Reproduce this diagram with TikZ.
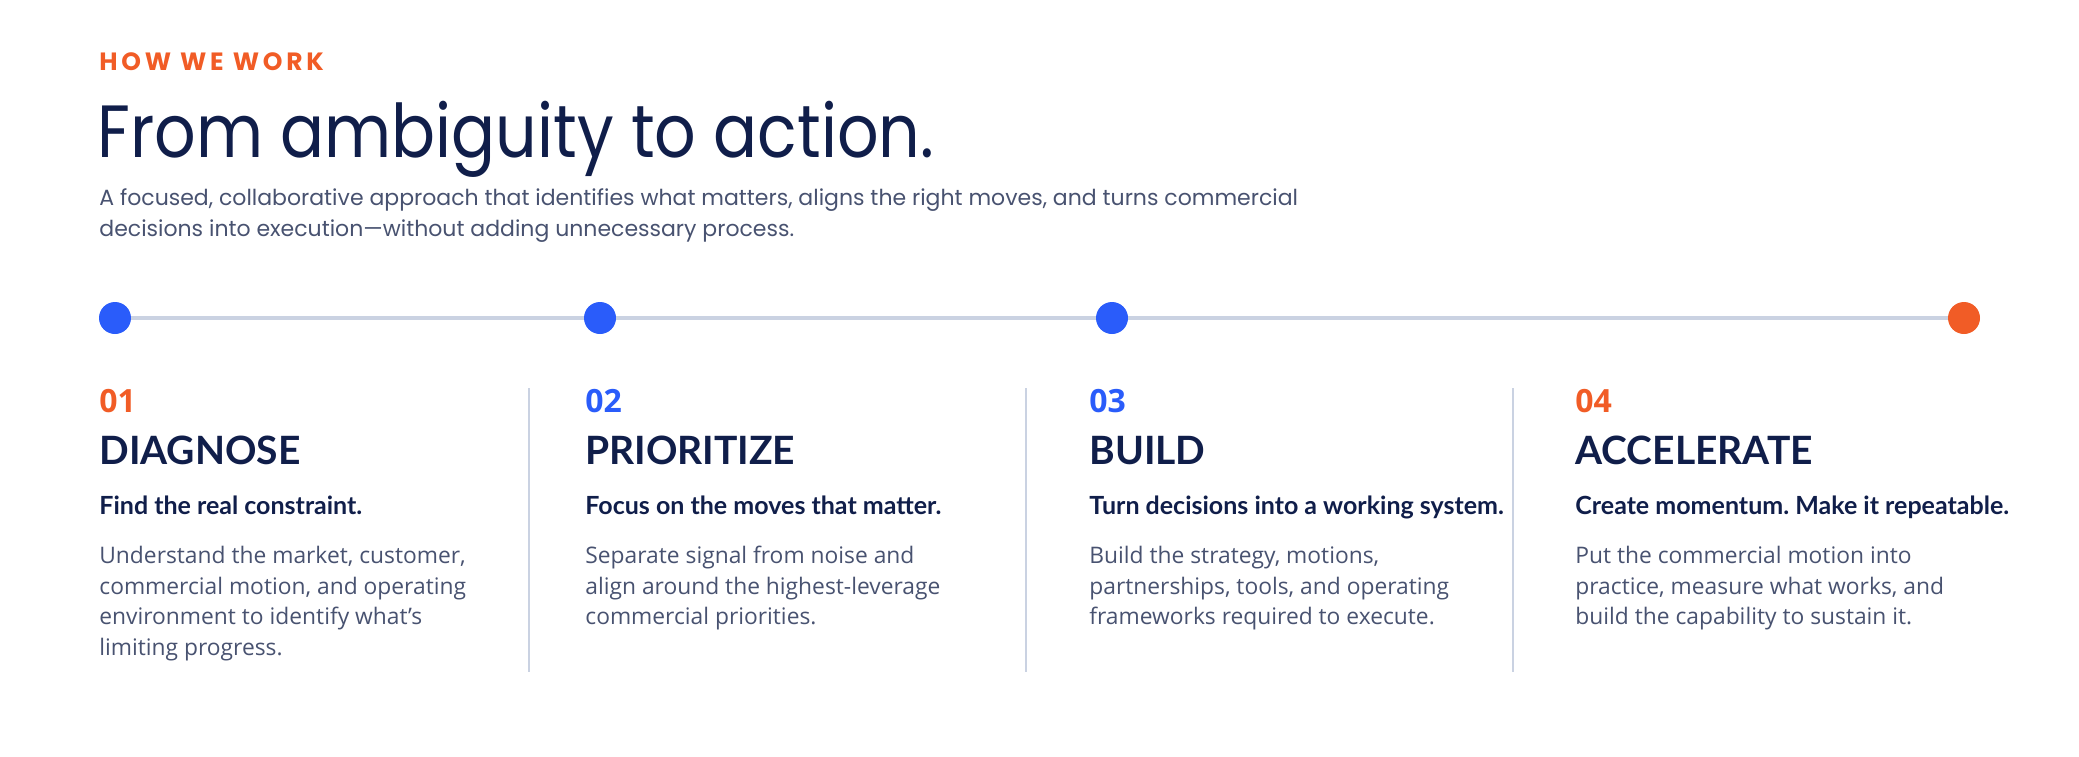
\documentclass[tikz,border=0pt]{standalone}
\usepackage{fontspec}
\setmainfont{Open Sans}
\newfontfamily\headfont{Poppins}
\newfontfamily\stepfont{Lato}
\usetikzlibrary{positioning}
\definecolor{navy}{RGB}{16, 30, 74}
\definecolor{accentorange}{RGB}{241, 92, 38}
\definecolor{stepblue}{RGB}{42, 92, 250}
\definecolor{bodygray}{RGB}{72, 82, 112}
\definecolor{railgray}{RGB}{202, 210, 226}
\frenchspacing

\tikzset{
  txt/.style={inner sep=0pt, anchor=base west},
  stepnum/.style={txt, font=\fontsize{16}{16}\selectfont\bfseries},
  steptitle/.style={txt, navy, font=\stepfont\fontsize{19.5}{19.5}\selectfont\bfseries},
  steplead/.style={txt, navy, font=\stepfont\fontsize{12.5}{12.5}\selectfont\bfseries},
  stepbody/.style={inner sep=0pt, anchor=north west, align=left, bodygray,
    font=\fontsize{11.4}{15.25}\selectfont},
  stepdot/.style={circle, fill=#1, minimum size=16pt, inner sep=0pt},
  rail/.style={railgray, line width=2pt},
  divider/.style={railgray, line width=0.8pt},
}

\begin{document}
\begin{tikzpicture}[x=0.5pt, y=-0.5pt]
    \useasboundingbox (0,0) rectangle (2079,756);

    % Header
    \node[txt, accentorange, font=\headfont\fontsize{12.5}{12.5}\selectfont\bfseries\addfontfeatures{LetterSpace=15}] (kicker) at (99,70) {HOW WE WORK};
    \node[txt, navy, font=\headfont\fontsize{37}{37}\selectfont\addfontfeatures{FakeStretch=0.88}] (title) at (97,157) {From ambiguity to action.};
    \node[txt, bodygray, font=\headfont\fontsize{11}{11}\selectfont] (sub1) at (99,205) {A focused, collaborative approach that identifies what matters, aligns the right moves, and turns commercial};
    \node[txt, bodygray, font=\headfont\fontsize{11}{11}\selectfont] (sub2) at (99,236) {decisions into execution—without adding unnecessary process.};

    % Timeline
    \node[stepdot=stepblue] (d1) at (115,318) {};
    \node[stepdot=stepblue] (d2) at (600,318) {};
    \node[stepdot=stepblue] (d3) at (1112,318) {};
    \node[stepdot=accentorange] (d4) at (1964,318) {};
    \draw[rail] (d1) -- (d2);
    \draw[rail] (d2) -- (d3);
    \draw[rail] (d3) -- (d4);

    % Dividers
    \coordinate (s1a) at (529,388); \coordinate (s1b) at (529,672);
    \coordinate (s2a) at (1026,388); \coordinate (s2b) at (1026,672);
    \coordinate (s3a) at (1513,388); \coordinate (s3b) at (1513,672);
    \draw[divider] (s1a) -- (s1b);
    \draw[divider] (s2a) -- (s2b);
    \draw[divider] (s3a) -- (s3b);

    % Step 1
    \node[stepnum, accentorange] (n1) at (99,412) {01};
    \node[steptitle] (t1) at (99,464) {DIAGNOSE};
    \node[steplead] (l1) at (99,514) {Find the real constraint.};
    \node[stepbody] (b1) at (99,546) {Understand the market, customer,\\commercial motion, and operating\\environment to identify what’s\\limiting progress.};

    % Step 2
    \node[stepnum, stepblue] (n2) at (585,412) {02};
    \node[steptitle] (t2) at (585,464) {PRIORITIZE};
    \node[steplead] (l2) at (585,514) {Focus on the moves that matter.};
    \node[stepbody] (b2) at (585,546) {Separate signal from noise and\\align around the highest-leverage\\commercial priorities.};

    % Step 3
    \node[stepnum, stepblue] (n3) at (1089,412) {03};
    \node[steptitle] (t3) at (1089,464) {BUILD};
    \node[steplead] (l3) at (1089,514) {Turn decisions into a working system.};
    \node[stepbody] (b3) at (1089,546) {Build the strategy, motions,\\partnerships, tools, and operating\\frameworks required to execute.};

    % Step 4
    \node[stepnum, accentorange] (n4) at (1575,412) {04};
    \node[steptitle] (t4) at (1575,464) {ACCELERATE};
    \node[steplead] (l4) at (1575,514) {Create momentum. Make it repeatable.};
    \node[stepbody] (b4) at (1575,546) {Put the commercial motion into\\practice, measure what works, and\\build the capability to sustain it.};
\end{tikzpicture}
\end{document}
